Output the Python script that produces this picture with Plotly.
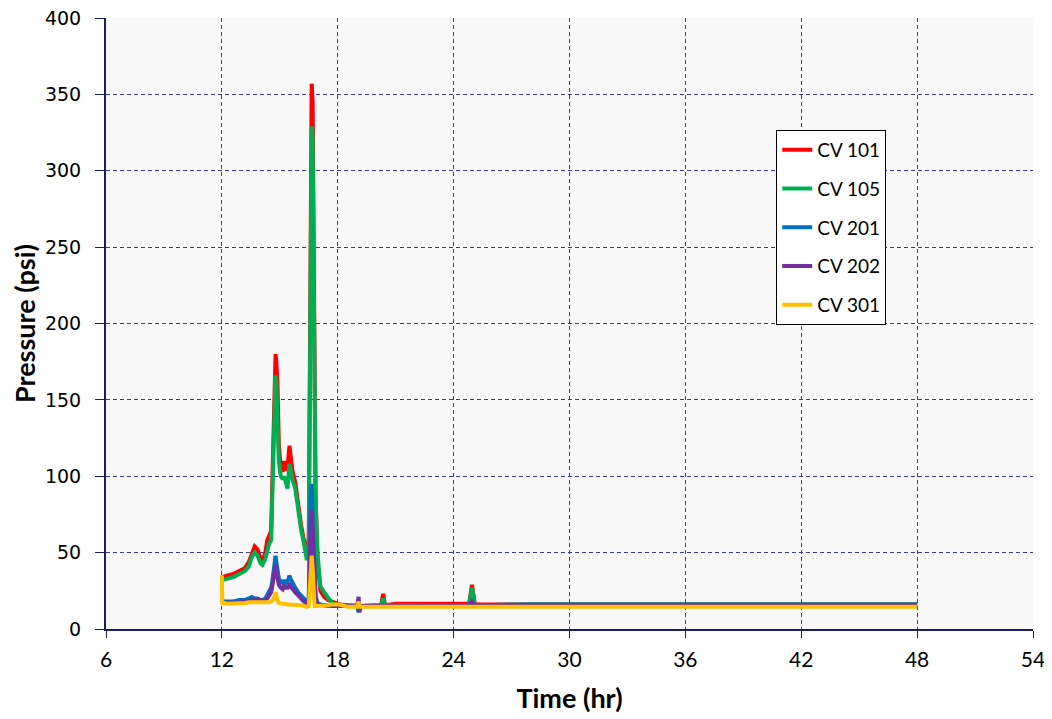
import plotly.graph_objects as go

time_hr = [12.0, 12.02, 12.3, 12.6, 12.9, 13.2, 13.4, 13.55, 13.7, 13.85,
           14.0, 14.1, 14.25, 14.35, 14.45, 14.55, 14.6, 14.7, 14.78, 14.82,
           14.88, 14.95, 15.05, 15.15, 15.22, 15.3, 15.4, 15.5, 15.55, 15.65,
           15.8, 15.95, 16.1, 16.25, 16.4, 16.5, 16.55, 16.6, 16.65, 16.7,
           16.75, 16.8, 16.85, 16.95, 17.1, 17.3, 17.5, 17.7, 17.9, 18.1,
           18.5, 19.0, 19.08, 19.12, 19.2, 20.25, 20.35, 20.45, 21.0, 24.8,
           24.95, 25.1, 28.0, 36.0, 48.0]

cv101 = [34, 34, 35, 36, 38, 40, 44, 50, 54, 52,
         46, 45, 50, 58, 62, 64, 90, 150, 180, 175,
         160, 120, 106, 103, 110, 104, 106, 120, 115, 104,
         96, 80, 68, 58, 48, 60, 200, 320, 357, 345,
         260, 170, 90, 45, 25, 21, 19, 18, 17, 16,
         15.5, 15, 15, 15, 15, 15.5, 23, 15.5, 16.5, 16.5,
         29, 16, 16, 16, 16]

cv105 = [32, 32, 33, 34, 36, 38, 41, 47, 50, 48,
         43, 42, 46, 52, 56, 58, 80, 140, 166, 160,
         130, 110, 100, 98, 100, 95, 92, 108, 104, 98,
         92, 78, 65, 56, 45, 55, 190, 300, 329, 320,
         230, 150, 85, 50, 28, 24, 20, 17, 16, 15.5,
         15.5, 15, 15, 15, 15, 15.5, 20, 15.5, 15.5, 15.5,
         27, 15.5, 16, 16, 16]

cv201 = [18, 18, 18, 18, 19, 19, 20, 21, 20, 20,
         19, 19, 20, 22, 25, 27, 30, 42, 48, 44,
         38, 33, 31, 30, 32, 30, 31, 35, 33, 30,
         27, 24, 22, 20, 18, 20, 60, 90, 95, 80,
         55, 35, 22, 17, 16, 15.5, 15.5, 15, 15, 15,
         15, 15, 11, 15, 15, 15, 15, 15, 15.5, 15.5,
         17, 15.5, 16, 16, 16]

cv202 = [17, 17, 17, 17, 17.5, 18, 18.5, 19, 19, 19,
         18.5, 18.5, 19, 20, 22, 24, 27, 38, 42, 38,
         32, 29, 27, 26, 28, 27, 27, 30, 28, 26,
         24, 22, 20, 18, 17, 18, 50, 75, 78, 65,
         45, 30, 20, 16, 15.5, 15.5, 15, 15, 15, 15,
         15, 15, 21, 11, 15, 15, 15, 15, 15.5, 15.5,
         18, 15.5, 15.5, 15.5, 15.5]

cv301 = [35, 17, 16.5, 16.5, 17, 17, 17.5, 17.5, 17.5, 17.5,
         17, 17, 17, 17, 17.5, 18, 18.5, 20, 24, 21,
         19, 17, 16.5, 16.5, 16.5, 16, 16, 16, 16, 16,
         16, 15.5, 15.5, 15, 14.5, 15, 30, 45, 48, 40,
         25, 15, 15, 15, 15, 15, 15.5, 16, 16, 16,
         14.5, 14.5, 18, 14.5, 14.5, 14.5, 14.5, 14.5, 14.5, 14.5,
         14.5, 14.5, 14.5, 14.5, 14.5]

series_names = ["CV 101", "CV 105", "CV 201", "CV 202", "CV 301"]
series_values = [cv101, cv105, cv201, cv202, cv301]
series_colors = ["#ff0000", "#00b050", "#0070c0", "#7030a0", "#ffc000"]

x_ticks = [6, 12, 18, 24, 30, 36, 42, 48, 54]
y_ticks = [0, 50, 100, 150, 200, 250, 300, 350, 400]

fig = go.Figure()
for name, vals, col in zip(series_names, series_values, series_colors):
    fig.add_trace(go.Scatter(x=time_hr, y=vals, mode="lines", name=name,
                             legendgroup=name,
                             line=dict(color=col, width=4)))

axis_col = "#1c1c6c"
grid_col = "#3a3aa0"
fig.update_layout(
    width=1052, height=719,
    margin=dict(l=98, r=27, t=10, b=98, autoexpand=False),
    paper_bgcolor="white",
    plot_bgcolor="#f8f8f8",
    legend=dict(x=0.723, y=0.8167, xanchor="left", yanchor="top",
                bgcolor="white", bordercolor="black", borderwidth=1,
                font=dict(family="Lato", size=19, color="black"),
                traceorder="grouped", tracegroupgap=11),
    xaxis=dict(range=[6, 54], tickvals=x_ticks, ticktext=[str(v) for v in x_ticks],
               automargin=False, ticklabeloverflow="allow",
               showline=True, linecolor=axis_col, linewidth=2,
               ticks="outside", ticklen=7, tickcolor=axis_col, tickwidth=1,
               ticklabelstandoff=4,
               showgrid=True, gridcolor=grid_col, griddash="4px,3px", gridwidth=1,
               zeroline=False,
               tickfont=dict(family="Lato", size=21, color="black"),
               title=dict(text="<b>Time (hr)</b>", standoff=19,
                          font=dict(family="Lato", size=27, color="black"))),
    yaxis=dict(range=[0, 400], tickvals=y_ticks,
               automargin=False, ticklabeloverflow="allow",
               showline=True, linecolor=axis_col, linewidth=2,
               ticks="outside", ticklen=9, tickcolor=axis_col, tickwidth=1,
               ticklabelstandoff=10,
               showgrid=True, gridcolor=grid_col, griddash="4px,3px", gridwidth=1,
               zeroline=False,
               tickfont=dict(family="DejaVu Sans", size=19, color="black"),
               title=dict(text="<b>Pressure (psi)</b>", standoff=6,
                          font=dict(family="Lato", size=27, color="black"))),
)

fig.write_html("out.html")
